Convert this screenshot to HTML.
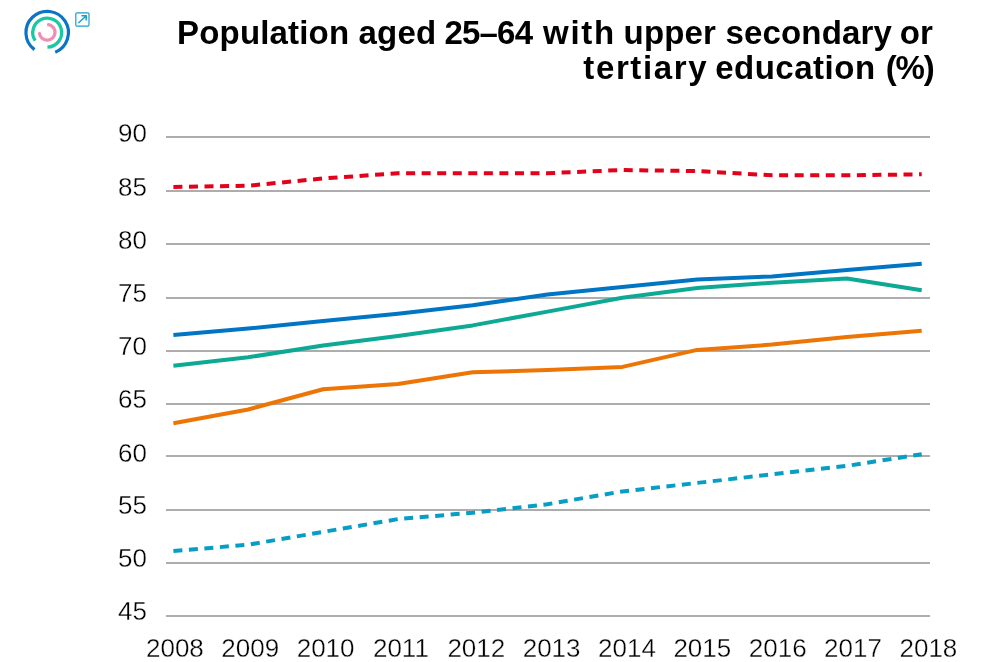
<!DOCTYPE html>
<html lang="en">
<head>
<meta charset="utf-8">
<title>Population aged 25&ndash;64 with upper secondary or tertiary education (%)</title>
<style>
html,body{margin:0;padding:0;background:#fff;}
body{width:1000px;height:662px;position:relative;overflow:hidden;font-family:"Liberation Sans",sans-serif;}
h1{position:absolute;right:65.4px;top:14.5px;margin:0;width:800px;text-align:right;font-size:33px;line-height:35px;font-weight:bold;color:#000;letter-spacing:0px;white-space:nowrap;}
svg{position:absolute;left:0;top:0;}
.ax{font-family:"Liberation Sans",sans-serif;font-size:26px;letter-spacing:0px;fill:#000;stroke:#fff;stroke-width:0.35px;}
.ln{fill:none;stroke-width:4;stroke-linejoin:round;}
</style>
</head>
<body>
<h1><span id="l1" style="letter-spacing:0.17px;margin-right:-0.17px">Population aged <span style="letter-spacing:-0.77px;margin-left:-1.25px">25–64</span> <span style="letter-spacing:1.67px;margin-left:1.45px">with</span> <span style="margin-left:-1.5px">upper</span> secondary <span style="margin-left:-1.8px;margin-right:1.8px">or</span></span><br><span id="l2" style="letter-spacing:0.72px;margin-right:-0.72px"><span style="letter-spacing:1.62px">tertiary</span> <span style="letter-spacing:0.5px;margin-left:-2.9px">education</span> <span style="letter-spacing:-1.18px;margin-left:0.22px;margin-right:1.9px">(%)</span></span></h1>
<svg width="1000" height="662" viewBox="0 0 1000 662">
<g id="logo" fill="none">
<path id="lb" stroke="#0a75c8" stroke-width="3.2" d="M34.47 49.62 A21.25 21.25 0 1 1 55.23 52.27"/>
<path id="lg" stroke="#1cc8a4" stroke-width="3.3" d="M35.15 40.58 A14.45 14.45 0 1 1 47.45 47.05"/>
<path id="lp" stroke="#f08fb5" stroke-width="3.3" stroke-linecap="round" d="M48.55 24.67 A7.8 7.8 0 1 1 39.52 33.70"/>
</g>
<g id="ext" fill="none" stroke="#1ba0c8" stroke-width="1.2">
<rect x="75.8" y="12.8" width="13.2" height="13.4" rx="1.2"/>
<path stroke-width="1.5" d="M78.4 23 L85.8 16.2 M81.4 15.8 L86.2 15.8 L86.2 20.6"/>
</g>
<g id="grid">
<rect x="166" y="136" width="764" height="2" fill="#adadae"/>
<rect x="166" y="190" width="764" height="2" fill="#adadae"/>
<rect x="166" y="243" width="764" height="2" fill="#adadae"/>
<rect x="166" y="297" width="764" height="2" fill="#adadae"/>
<rect x="166" y="350" width="764" height="2" fill="#adadae"/>
<rect x="166" y="403" width="764" height="2" fill="#adadae"/>
<rect x="166" y="455" width="764" height="2" fill="#adadae"/>
<rect x="166" y="509" width="764" height="2" fill="#adadae"/>
<rect x="166" y="562" width="764" height="2" fill="#adadae"/>
<rect x="166" y="615" width="764" height="2" fill="#adadae"/>
</g>
<g id="ylabels">
<text class="ax" text-anchor="end" x="147" y="142.2">90</text>
<text class="ax" text-anchor="end" x="147" y="196.2">85</text>
<text class="ax" text-anchor="end" x="147" y="249.2">80</text>
<text class="ax" text-anchor="end" x="147" y="302.2">75</text>
<text class="ax" text-anchor="end" x="147" y="355">70</text>
<text class="ax" text-anchor="end" x="147" y="408">65</text>
<text class="ax" text-anchor="end" x="147" y="462">60</text>
<text class="ax" text-anchor="end" x="147" y="514">55</text>
<text class="ax" text-anchor="end" x="147" y="567">50</text>
<text class="ax" text-anchor="end" x="147" y="620">45</text>
</g>
<g id="xlabels">
<text class="ax" text-anchor="middle" x="174.9" y="657">2008</text>
<text class="ax" text-anchor="middle" x="250.2" y="657">2009</text>
<text class="ax" text-anchor="middle" x="325.6" y="657">2010</text>
<text class="ax" text-anchor="middle" x="400.9" y="657">2011</text>
<text class="ax" text-anchor="middle" x="476.3" y="657">2012</text>
<text class="ax" text-anchor="middle" x="551.6" y="657">2013</text>
<text class="ax" text-anchor="middle" x="627.0" y="657">2014</text>
<text class="ax" text-anchor="middle" x="702.3" y="657">2015</text>
<text class="ax" text-anchor="middle" x="777.7" y="657">2016</text>
<text class="ax" text-anchor="middle" x="853.0" y="657">2017</text>
<text class="ax" text-anchor="middle" x="928.4" y="657">2018</text>
</g>
<g id="series">
<polyline class="ln" stroke="#e2001a" stroke-dasharray="9 6.55" points="173.4,187.0 248.2,185.7 323.1,178.5 397.9,173.2 472.7,173.2 547.5,173.2 622.4,170.0 697.2,171.1 772.0,175.3 846.9,175.3 921.7,174.3"/>
<polyline class="ln" stroke="#0075c4" points="173.4,335.0 248.2,328.6 323.1,321.1 397.9,313.7 472.7,305.2 547.5,294.5 622.4,287.1 697.2,279.6 772.0,276.4 846.9,270.1 921.7,263.7"/>
<polyline class="ln" stroke="#0ea995" points="173.4,365.8 248.2,357.3 323.1,345.6 397.9,336.0 472.7,325.4 547.5,311.6 622.4,297.7 697.2,288.1 772.0,282.8 846.9,278.6 921.7,290.3"/>
<polyline class="ln" stroke="#ec7506" points="173.4,423.3 248.2,409.5 323.1,389.3 397.9,383.9 472.7,372.2 547.5,370.1 622.4,366.9 697.2,349.9 772.0,344.6 846.9,337.1 921.7,330.7"/>
<polyline class="ln" stroke="#089dc4" stroke-dasharray="9 6.55" points="173.4,551.1 248.2,544.7 323.1,531.9 397.9,519.1 472.7,512.7 547.5,504.2 622.4,491.4 697.2,482.9 772.0,474.4 846.9,465.9 921.7,454.2"/>
</g>
</svg>
</body>
</html>
